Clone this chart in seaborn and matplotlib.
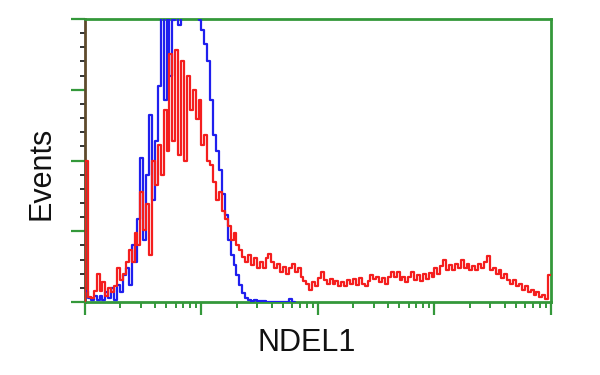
import numpy as np
import pandas as pd
import matplotlib
matplotlib.use("Agg")
import matplotlib.pyplot as plt
import seaborn as sns
from matplotlib.ticker import LogLocator, MultipleLocator, NullFormatter

# ---- data: event counts per log-spaced channel (160 channels over 4 decades)
red_counts = [100, 3.5, 3, 8, 20, 8, 14, 4, 10, 7,
              11, 24, 15.5, 20, 28, 37, 28, 49, 40, 78,
              51, 69, 33, 100, 83, 111, 90, 136, 107, 175,
              114, 178, 104, 170, 100, 160, 136, 150, 129, 143,
              111, 118, 100, 97, 85, 72, 78, 64, 59, 54,
              44, 49, 40, 37, 32, 28, 33, 26, 31, 24,
              28, 24, 31, 34, 28, 24, 27, 21, 25, 20,
              24, 27, 21, 24, 18, 15, 13, 8.5, 14, 11,
              17, 21, 15.5, 13, 16, 13, 15, 11, 14, 11,
              15.5, 13, 16, 12, 17, 13, 11, 15, 19, 16,
              18, 14, 17, 13, 18, 21, 18, 21, 15.5, 18,
              14, 18, 21, 15.5, 19, 15, 20, 16, 20.5, 18,
              24, 20, 25.5, 30, 22.6, 26, 22.6, 27, 24, 30,
              24, 27, 22.6, 25.5, 22.6, 27, 24, 28, 32.5, 22.6,
              24, 20, 22.6, 17, 20, 15.5, 12.7, 15.5, 11, 12.7,
              8.5, 11, 7, 8.5, 5, 7, 3.5, 5, 2, 19]

blue_counts = [8, 3, 1.5, 4, 1.5, 4, 1.5, 7, 3, 10,
               1.5, 12, 7, 19, 24, 12, 40, 28, 59, 102,
               44, 90, 132, 72, 114, 153, 210, 143, 215, 160,
               199, 205, 196, 225, 240, 235, 245, 230, 220, 199,
               192, 182, 170, 143, 118, 107, 93, 76, 61.5, 44,
               33, 26, 19, 12, 6.4, 3, 1.5, 0.7, 1.5, 1,
               1, 0.5, 0, 0, 0, 0, 0, 0, 0, 0,
               2, 0]

x_label = "NDEL1"
y_label = "Events"
n_channels = 160
decades = (0, 4)

GREEN = "#34983a"
LEFT_SPINE = "#5e4a2c"
RED = "#f41e1e"
BLUE = "#1f1fee"

sns.set_theme(style="white")
plt.rcParams["font.family"] = ["Liberation Sans", "DejaVu Sans"]

edges = np.logspace(decades[0], decades[1], n_channels + 1)


def step_frame(counts):
    n = len(counts)
    x = np.concatenate([[edges[0]], edges[:n], [edges[n]]])
    y = np.concatenate([[0.0], np.asarray(counts, float), [counts[-1]]])
    return pd.DataFrame({"x": x, "y": y})


fig = plt.figure(figsize=(6, 3.75), dpi=100)
ax = fig.add_axes([85 / 600, 1 - 302 / 375, 466 / 600, 283 / 375])
ax.set_xscale("log")

sns.lineplot(data=step_frame(blue_counts), x="x", y="y", drawstyle="steps-post",
             estimator=None, sort=False, color=BLUE, lw=1.6, ax=ax, zorder=3)
sns.lineplot(data=step_frame(red_counts), x="x", y="y", drawstyle="steps-post",
             estimator=None, sort=False, color=RED, lw=1.6, ax=ax, zorder=4)

ax.set_xlim(edges[0], edges[-1])
ax.set_ylim(0, 200)
ax.set_xlabel("")
ax.set_ylabel("")

ax.xaxis.set_major_locator(LogLocator(base=10, numticks=10))
ax.xaxis.set_minor_locator(LogLocator(base=10, subs=np.arange(2, 10), numticks=100))
ax.xaxis.set_major_formatter(NullFormatter())
ax.xaxis.set_minor_formatter(NullFormatter())
ax.yaxis.set_major_locator(MultipleLocator(50))
ax.yaxis.set_minor_locator(MultipleLocator(10))
ax.yaxis.set_major_formatter(NullFormatter())
ax.yaxis.set_minor_formatter(NullFormatter())

ax.tick_params(axis="x", which="both", bottom=True, top=False, direction="out")
ax.tick_params(axis="x", which="major", length=9, width=1.6, color=GREEN)
ax.tick_params(axis="x", which="minor", length=4.5, width=1.4, color=GREEN)
ax.tick_params(axis="y", which="both", left=True, right=False, direction="out")
ax.tick_params(axis="y", which="major", length=10, width=1.6, color=GREEN)
ax.tick_params(axis="y", which="minor", length=3.5, width=1.4, color="#333333")

for side in ["top", "right", "bottom"]:
    ax.spines[side].set_color(GREEN)
    ax.spines[side].set_linewidth(2)
    ax.spines[side].set_visible(True)
ax.spines["left"].set_color(LEFT_SPINE)
ax.spines["left"].set_linewidth(2)
ax.spines["left"].set_visible(True)

fig.text(41 / 600, 1 - 173 / 375, y_label, rotation=90, ha="center", va="center",
         fontsize=22, color="#111111")
fig.text(307 / 600, 1 - 343 / 375, x_label, ha="center", va="center",
         fontsize=22, color="#111111")

fig.savefig("out.png", dpi=100, facecolor="white")
